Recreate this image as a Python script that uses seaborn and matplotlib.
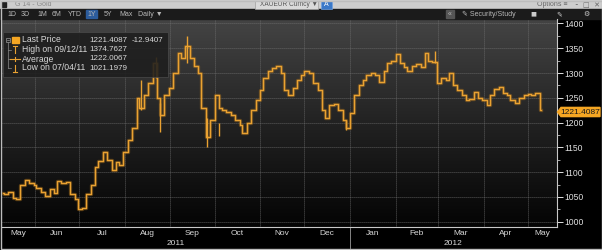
import matplotlib
matplotlib.use('Agg')
import matplotlib.pyplot as plt
import matplotlib.dates as mdates
from matplotlib.colors import LinearSegmentedColormap
from matplotlib.patches import Rectangle, Polygon
import numpy as np
import pandas as pd
import seaborn as sns
from datetime import datetime

# ---------------- data (XAUEUR, read every 2 business days) ----------------
price = [1058, 1055, 1060, 1048, 1045, 1075, 1085, 1078, 1075, 1068,
         1060, 1052, 1065, 1058, 1082, 1078, 1080, 1055, 1045, 1025,
         1028, 1055, 1075, 1110, 1122, 1140, 1125, 1105, 1120, 1115,
         1140, 1165, 1190, 1250, 1230, 1255, 1280, 1320, 1250, 1215,
         1255, 1270, 1300, 1340, 1330, 1355, 1330, 1315, 1300, 1230,
         1170, 1205, 1255, 1230, 1225, 1222, 1215, 1205, 1195, 1178,
         1200, 1225, 1245, 1265, 1290, 1305, 1310, 1315, 1300, 1265,
         1255, 1270, 1285, 1295, 1305, 1300, 1280, 1265, 1225, 1210,
         1235, 1238, 1225, 1205, 1190, 1220, 1255, 1275, 1285, 1295,
         1300, 1295, 1282, 1305, 1320, 1325, 1338, 1320, 1312, 1305,
         1315, 1318, 1312, 1340, 1325, 1322, 1280, 1290, 1285, 1300,
         1275, 1265, 1255, 1245, 1248, 1262, 1250, 1245, 1235, 1255,
         1268, 1272, 1260, 1255, 1245, 1240, 1250, 1255, 1258, 1255,
         1260, 1225]
start_date = '2011-05-10'

# intraperiod extremes (vertical bars)
spike_dates = ['2011-08-12', '2011-08-22', '2011-08-25', '2011-09-12',
               '2011-09-26', '2011-10-04', '2011-12-29', '2012-02-28']
spike_low = [1225, 1290, 1180, 1320, 1150, 1172, 1185, 1320]
spike_high = [1286, 1333, 1240, 1375, 1210, 1200, 1205, 1345]

legend_labels = ['Last Price', 'High on 09/12/11', 'Average', 'Low on 07/04/11']
legend_values = ['1221.4087', '1374.7627', '1222.0067', '1021.1979']
last_change = '-12.9407'
last_price = 1221.4087

y_ticks = [1000, 1050, 1100, 1150, 1200, 1250, 1300, 1350, 1400]
toolbar_buttons = ['1D', '3D', '1M', '6M', 'YTD', '1Y', '5Y', 'Max', 'Daily ▼']

dates = pd.bdate_range(start_date, periods=len(price), freq='2B')
df = pd.DataFrame({'date': dates, 'price': price})

# ---------------- figure ----------------
plt.rcParams['font.family'] = ['Liberation Sans', 'DejaVu Sans']
W, H = 602, 250
fig = plt.figure(figsize=(W / 100, H / 100), dpi=100, facecolor='black')

ORANGE = '#eaa232'
TXT = '#d8d8d8'

# background / chrome axes (pixel coordinates)
bg = fig.add_axes([0, 0, 1, 1], zorder=0)
bg.set_xlim(0, W); bg.set_ylim(H, 0); bg.axis('off')
bg.add_patch(Rectangle((0, 0), W, H, color='black'))
grad = np.linspace(0, 1, 256).reshape(-1, 1)
cmap = LinearSegmentedColormap.from_list('bb', ['#444444', '#222222', '#040404'])
bg.imshow(grad, extent=[2, 557, 227, 19], aspect='auto', cmap=cmap, zorder=1)
# title bar
bg.add_patch(Rectangle((0, 0), W, 9, color='#cdcdcd', zorder=2))
bg.add_patch(Rectangle((1.5, 2), 4, 5, color='#222222', zorder=3))
bg.text(15, 4.7, 'G 14 - Gold', color='#8a8a8a', fontsize=5.0, va='center', zorder=3)
bg.add_patch(Rectangle((255, 0.5), 63, 8, facecolor='#dadada', edgecolor='#a0a0a0', lw=0.5, zorder=3))
bg.text(260, 4.7, 'XAUEUR Curncy ▼', color='#555555', fontsize=4.7, va='center', zorder=4)
bg.add_patch(Rectangle((321, 0.5), 11, 8, facecolor='#3a78c8', edgecolor='#6fa0e0', lw=0.5, zorder=3))
bg.text(326.5, 4.7, 'A', color='white', fontsize=5.0, va='center', ha='center', zorder=4)
bg.text(537, 4.7, 'Options ≡', color='#666666', fontsize=5.0, va='center', zorder=4)
bg.text(575, 4.7, '⁃  □  ✕', color='#666666', fontsize=5.0, va='center', zorder=4, family=['DejaVu Sans'])
# toolbar
bg.add_patch(Rectangle((0, 9), W, 10, color='#1b1b1b', zorder=2))
btn_x = [7, 21, 37, 52, 68, 87, 104, 119, 138]
for bx, lab in zip(btn_x, toolbar_buttons):
    if lab == '1Y':
        bg.add_patch(Rectangle((bx - 1.5, 10), 11, 8, color='#2c5c9c', zorder=3))
    bg.text(bx, 14.2, lab, color='#b8b8b8', fontsize=5.0, va='center', zorder=4,
            family=['Liberation Sans', 'DejaVu Sans'])
bg.add_patch(Rectangle((446, 10), 8, 8, color='#555555', zorder=3))
bg.text(450, 14.2, '«', color='#bbbbbb', fontsize=5, va='center', ha='center', zorder=4)
bg.text(462, 14.2, '✎ Security/Study', color='#b8b8b8', fontsize=5.0, va='center', zorder=4,
        family=['Liberation Sans', 'DejaVu Sans'])
bg.text(533, 14.2, '■', color='#cccccc', fontsize=4.5, va='center', ha='center', zorder=4, family=['DejaVu Sans'])
bg.text(559, 14.2, '✎', color='#cccccc', fontsize=5, va='center', ha='center', zorder=4, family=['DejaVu Sans'])
bg.text(586, 14.2, '⚙', color='#cccccc', fontsize=5, va='center', ha='center', zorder=4, family=['DejaVu Sans'])
# frame
bg.add_patch(Rectangle((0.5, 0.5), W - 1, H - 1.5, fill=False, edgecolor='#bdbdbd', lw=1.0, zorder=5))
bg.plot([350, 350], [228, 248], color='#9a9a9a', lw=0.6, zorder=3)

# ---------------- plot axes ----------------
left, right, top, bot = 2, 557, 19, 227
ax = fig.add_axes([left / W, (H - bot) / H, (right - left) / W, (bot - top) / H], zorder=1)
ax.set_facecolor('none')

sns.lineplot(data=df, x='date', y='price', ax=ax, color='#a8701c', lw=2.4, alpha=0.45,
             drawstyle='steps-mid', zorder=2, legend=False)
sns.lineplot(data=df, x='date', y='price', ax=ax, color=ORANGE, lw=1.0,
             drawstyle='steps-mid', zorder=3, legend=False)
ax.vlines(pd.to_datetime(spike_dates), spike_low, spike_high, color=ORANGE, lw=1.0, zorder=3)

xmin = datetime(2011, 5, 9, 14)
xmax = datetime(2012, 5, 20, 17)
ax.set_xlim(xmin, xmax)
ax.set_ylim(989.3, 1409)

ax.yaxis.tick_right()
ax.set_yticks(y_ticks)
ax.set_yticks(np.arange(1025, 1400, 50), minor=True)
ax.tick_params(axis='y', which='major', colors='#e0e0e0', labelsize=6.2, length=4, width=0.7, pad=1.5)
ax.tick_params(axis='y', which='minor', colors='#c0c0c0', length=2, width=0.6)
ax.xaxis.set_major_locator(mdates.MonthLocator())
ax.xaxis.set_major_formatter(plt.NullFormatter())
ax.tick_params(axis='x', which='both', length=0)
ax.set_xlabel(''); ax.set_ylabel('')
ax.grid(True, which='major', color='#727272', linestyle=(0, (1, 1.4)), lw=0.6)
for s in ['top', 'left']:
    ax.spines[s].set_visible(False)
ax.spines['right'].set_color('#c8c8c8'); ax.spines['right'].set_linewidth(0.8)
ax.spines['bottom'].set_color('#c8c8c8'); ax.spines['bottom'].set_linewidth(0.8)

# month and year labels
xt = ax.get_xaxis_transform()
months = pd.date_range('2011-05-01', '2012-06-01', freq='MS')
for m0, m1 in zip(months[:-1], months[1:]):
    s = max(m0, pd.Timestamp(xmin)); e = min(m1, pd.Timestamp(xmax))
    if e <= s:
        continue
    c = s + (e - s) / 2
    ax.text(c, -0.03, m0.strftime('%b'), transform=xt, color=TXT, fontsize=6.0,
            ha='center', va='center', clip_on=False)
for y0, y1, lab in [(pd.Timestamp(xmin), pd.Timestamp('2012-01-01'), '2011'),
                    (pd.Timestamp('2012-01-01'), pd.Timestamp(xmax), '2012')]:
    ax.text(y0 + (y1 - y0) / 2, -0.08, lab, transform=xt, color=TXT, fontsize=6.0,
            ha='center', va='center', clip_on=False)

# ---------------- foreground (legend box, last price tag) ----------------
fg = fig.add_axes([0, 0, 1, 1], zorder=2)
fg.set_xlim(0, W); fg.set_ylim(H, 0); fg.axis('off'); fg.patch.set_alpha(0)
fg.add_patch(Rectangle((3, 32), 165, 45, facecolor='#1e1e1e', alpha=0.88,
                       edgecolor='#4a4a4a', lw=0.6))
rows_y = [40, 49.5, 59, 68]
fg.add_patch(Rectangle((5.5, 37.5), 4.5, 4.5, fill=False, edgecolor='#9a9a9a', lw=0.5))
fg.plot([6.5, 9], [39.75, 39.75], color='#9a9a9a', lw=0.5)
fg.add_patch(Rectangle((12, 36.5), 6.5, 6.5, color='#f5a623'))
fg.plot([7.8, 7.8], [42, 68], color='#8a8a8a', lw=0.5)
for ry in rows_y[1:]:
    fg.plot([7.8, 11], [ry, ry], color='#8a8a8a', lw=0.5)
# high marker
fg.plot([15, 15], [45.5, 53], color=ORANGE, lw=0.8)
fg.plot([13, 17], [45.5, 45.5], color=ORANGE, lw=0.8)
# average marker
fg.plot([10, 20], [59, 59], color=ORANGE, lw=0.8)
fg.plot([15, 15], [57, 61], color=ORANGE, lw=0.8)
# low marker
fg.plot([15, 15], [64.5, 72], color=ORANGE, lw=0.8)
fg.plot([13, 17], [72, 72], color=ORANGE, lw=0.8)
for ry, lab, val in zip(rows_y, legend_labels, legend_values):
    fg.text(22, ry, lab, color=TXT, fontsize=6.2, va='center')
    fg.text(89, ry, val, color=TXT, fontsize=5.8, va='center')
fg.text(132, rows_y[0], last_change, color=TXT, fontsize=5.8, va='center')

# last price tag on the right axis
ytag = 221.7 - (last_price - 1000) * 0.4955
fg.add_patch(Polygon([[557.5, ytag], [561, ytag - 4.6], [600, ytag - 4.6],
                      [600, ytag + 4.6], [561, ytag + 4.6]], closed=True, color='#f5a623'))
fg.text(580.5, ytag + 0.3, '1221.4087', color='#1a1a1a', fontsize=6.0, ha='center', va='center')

fig.savefig('out.png', dpi=100, facecolor='black')
